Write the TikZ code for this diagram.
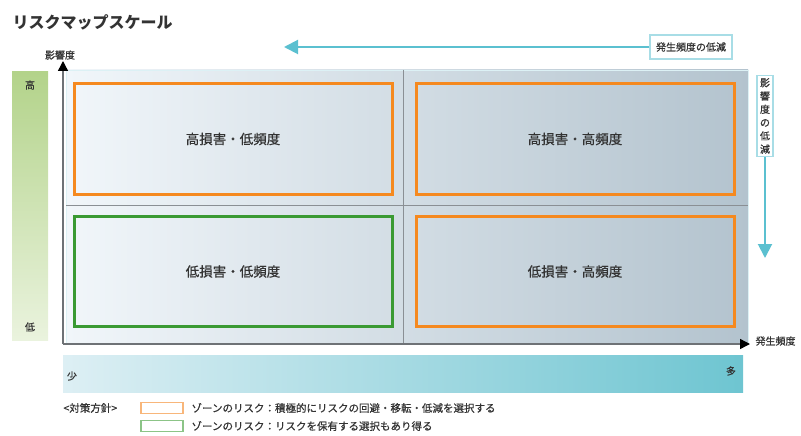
\documentclass[tikz,border=0pt]{standalone}
\usepackage{fontspec}
\setmainfont{Noto Sans CJK JP}
\newfontfamily\medfont{Noto Sans CJK JP}[FakeBold=0.6]
\usetikzlibrary{arrows.meta,calc}
\definecolor{txt}{HTML}{333333}
\definecolor{zorange}{HTML}{F5891F}
\definecolor{zgreen}{HTML}{3A9A33}
\definecolor{lorange}{HTML}{F8B67A}
\definecolor{lgreen}{HTML}{8CC487}
\definecolor{cyanarr}{HTML}{5BC0D0}
\definecolor{cyanbox}{HTML}{A8DDE6}
\definecolor{gtop}{HTML}{B3D38A}
\definecolor{gbot}{HTML}{EAF3DE}
\definecolor{bleft}{HTML}{DDEFF4}
\definecolor{bright}{HTML}{6EC5D1}
\definecolor{mleft}{HTML}{F1F6FA}
\definecolor{mright}{HTML}{B3C3CE}
\definecolor{gridc}{HTML}{8A8F94}
\begin{document}
\begin{tikzpicture}[x=1pt,y=-1pt,
  every node/.style={text=txt},
  qbox/.style={draw, line width=3pt, minimum width=318pt, minimum height=110pt, inner sep=0pt, font=\medfont\fontsize{13.5}{14}\selectfont},
  lbox/.style={draw=cyanbox, line width=1.2pt, fill=white},
  sm/.style={font=\medfont\fontsize{10}{11}\selectfont},
  leg/.style={font=\medfont\fontsize{10.5}{11}\selectfont, anchor=west},
  legbox/.style={draw, line width=1.4pt, minimum width=42pt, minimum height=11pt, inner sep=0pt},
  axis/.style={draw=gridc!80!black, line width=1.4pt, -{Triangle[length=10pt,width=10pt,color=black]}},
  carrow/.style={draw=cyanarr, line width=2pt, -{Triangle[length=14pt,width=14pt]}}
]
\useasboundingbox (0,0) rectangle (801,436);
% title
\node[anchor=west, font=\bfseries\fontsize{16}{16}\selectfont] (title) at (9,22) {リスクマップスケール};
% left green bar
\shade[top color=gtop, bottom color=gbot] (12,72) rectangle (48,340);
\node[sm] (hi) at (30,85) {高};
\node[sm] (lo) at (30,327) {低};
% main area
\shade[left color=mleft, right color=mright] (66,70) rectangle (748,343);
\draw[cyanbox!40!white, line width=0.8pt] (66,70) rectangle (748,343);
\draw[gridc, line width=1pt] (403,70) -- (403,343);
\draw[gridc, line width=1pt] (66,205) -- (748,205);
% quadrants
\node[qbox, draw=zorange] (hl) at (233,139) {高損害・低頻度};
\node[qbox, draw=zorange] (hh) at (575,139) {高損害・高頻度};
\node[qbox, draw=zgreen] (ll) at (233,271.5) {低損害・低頻度};
\node[qbox, draw=zorange] (lh) at (575,271.5) {低損害・高頻度};
% axes
\coordinate (o) at (63,344);
\coordinate (ytop) at (63,61);
\coordinate (xend) at (750,344);
\draw[axis] (o) -- (ytop);
\draw[axis] (o) -- (xend);
\node[sm] (ylab) at (60,55) {影響度};
\node[sm, anchor=west] (xlab) at (752,341) {発生頻度};
% bottom bar
\shade[left color=bleft, right color=bright] (63,355) rectangle (743,392);
\node[sm] (few) at (72,376) {少};
\node[sm] (many) at (731,371) {多};
% top reducing arrow
\node[lbox, sm, minimum height=24pt, inner xsep=6pt] (fbox) at (691,47) {発生頻度の低減};
\coordinate (ftip) at (284,47);
\draw[carrow] (fbox.west) -- (ftip);
% right reducing arrow
\node[lbox, sm, align=center, inner sep=3pt, font=\medfont\fontsize{10}{13.3}\selectfont] (vbox) at (765,116) {影\\響\\度\\の\\低\\減};
\coordinate (vtip) at (765,258);
\draw[carrow] (vbox.south) -- (vtip);
% legend
\node[leg] (lt) at (60,408) {<対策方針>};
\node[legbox, draw=lorange] (lob) at (162,408) {};
\node[leg] (lot) at (188,408) {ゾーンのリスク：積極的にリスクの回避・移転・低減を選択する};
\node[legbox, draw=lgreen] (lgb) at (162,426) {};
\node[leg] (lgt) at (188,426) {ゾーンのリスク：リスクを保有する選択もあり得る};
\end{tikzpicture}
\end{document}
